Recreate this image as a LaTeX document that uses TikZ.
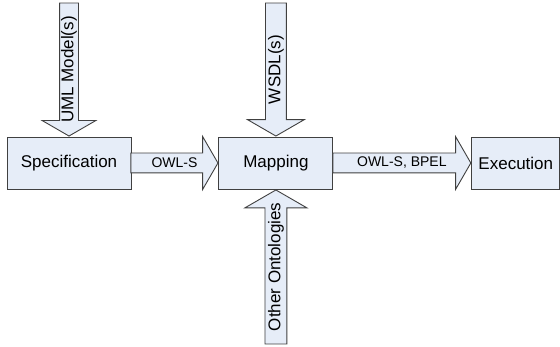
\documentclass[tikz,border=0pt]{standalone}
\usepackage[svgnames]{xcolor}
\usepackage{fontspec}
\setmainfont{Liberation Sans}
\usepackage{tikz}
\usetikzlibrary{
  positioning,
  calc,
  shapes.arrows}

\definecolor{boxfill}{RGB}{230,237,248}
\definecolor{boxline}{RGB}{64,64,64}

\begin{document}
\begin{tikzpicture}[x=1pt,y=1pt]
\tikzset{
  stage/.style={draw=boxline, fill=boxfill, line width=0.9pt,
    minimum height=52pt, inner sep=0pt,
    font=\fontsize{17}{20}\selectfont},
  flow/.style={single arrow, draw=boxline, fill=boxfill, line width=0.9pt,
    single arrow tip angle=120, single arrow head extend=16.5pt,
    text height=18pt, text depth=0pt,
    minimum width=52pt, inner sep=0.5pt, anchor=tip},
  feed/.style={flow, rotate=90},
  flowtext/.style={inner sep=0pt, font=\fontsize{14}{16}\selectfont},
  feedtext/.style={inner sep=0pt, rotate=90, font=\fontsize{17}{20}\selectfont},
}
\useasboundingbox (0,0) rectangle (560,347);

\node[stage, minimum width=124pt] (spec) at (69,184) {Specification};
\node[stage, minimum width=114pt, right=87pt of spec] (map) {Mapping};
\node[stage, minimum width=88pt, right=138pt of map] (exec) {Execution};

% block arrows
\node[flow, minimum height=87pt] (owls) at (map.west) {};
\node[flow, minimum height=138pt] (bpel) at (exec.west) {};
\node[feed, shape border rotate=180, minimum height=133pt, text height=17pt,
  minimum width=53pt, single arrow head extend=17.5pt] (uml) at (spec.north) {};
\node[feed, shape border rotate=180, minimum height=133pt, text height=19pt,
  minimum width=56pt, single arrow head extend=18pt] (wsdl) at (map.north) {};
\node[feed, minimum height=154pt, text height=20pt,
  minimum width=61pt, single arrow head extend=20pt] (onto) at (map.south) {};

% their texts
\node[flowtext] (owls-t) at ($(owls.tail)!0.5!(owls.tip)$) {OWL-S};
\node[flowtext] (bpel-t) at ($(bpel.tail)!0.5!(bpel.tip)$) {OWL-S, BPEL};
\node[feedtext] (uml-t) at ($(uml.tail)!0.5!(uml.tip)$) {UML Model(s)};
\node[feedtext] (wsdl-t) at ($(wsdl.tail)!0.5!(wsdl.tip)$) {WSDL(s)};
\node[feedtext] (onto-t) at ($(onto.tail)!0.5!(onto.tip)$) {Other Ontologies};
\end{tikzpicture}
\end{document}
